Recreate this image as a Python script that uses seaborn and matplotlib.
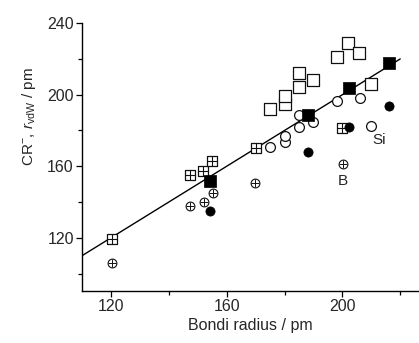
import numpy as np
import pandas as pd
import matplotlib
matplotlib.use("Agg")
import matplotlib.pyplot as plt
import seaborn as sns

# values (Bondi radius vs CR- / r_vdW, pm)
open_sq_x = [175.1, 180, 180, 184.9, 184.9, 190, 198.2, 202.1, 205.9, 209.9]
open_sq_y = [191.9, 194.7, 199.2, 204.4, 212.4, 208.1, 220.8, 228.9, 223.4, 205.7]

filled_sq_x = [154.1, 188, 202.2, 216]
filled_sq_y = [151.7, 188.9, 204, 217.8]

open_circ_x = [175.1, 180, 180, 184.9, 184.9, 190, 198, 206.1, 209.9]
open_circ_y = [170.8, 173.6, 176.8, 181.7, 188.5, 184.8, 196.4, 198.4, 182.4]

filled_circ_x = [154.1, 188, 202.2, 216]
filled_circ_y = [135.1, 168, 181.7, 193.6]

oplus_x = [120.2, 147.2, 152.1, 155.1, 169.9, 200.1]
oplus_y = [105.7, 137.7, 140.1, 144.8, 150.7, 161]

boxplus_x = [120.2, 147.2, 151.8, 154.9, 170, 199.8]
boxplus_y = [119.1, 155, 157.4, 163, 170, 181.1]

line_x = [110, 220]
line_y = [110, 220]

labels = ["B", "Si"]
label_x = [200.1, 212.8]
label_y = [151.7, 174.6]

sns.set_style("ticks")
plt.rcParams["font.family"] = ["Liberation Sans", "DejaVu Sans"]
plt.rcParams["mathtext.fontset"] = "custom"
plt.rcParams["mathtext.rm"] = "Liberation Sans"
plt.rcParams["mathtext.it"] = "Liberation Sans:italic"

fig = plt.figure(figsize=(4.19, 3.43), dpi=100)
ax = fig.add_axes([0.196, 0.1525, 0.802, 0.78])

sns.lineplot(x=line_x, y=line_y, ax=ax, color="black", lw=1.0, zorder=2)

ec = "#111111"
# open squares
sns.scatterplot(x=open_sq_x, y=open_sq_y, ax=ax, marker="s", s=64,
                facecolor="white", edgecolor=ec, linewidth=0.9, zorder=3)
# boxed plus: open square + cross
sns.scatterplot(x=boxplus_x, y=boxplus_y, ax=ax, marker="s", s=58,
                facecolor="white", edgecolor=ec, linewidth=0.9, zorder=3)
sns.scatterplot(x=boxplus_x, y=boxplus_y, ax=ax, marker="+", s=58,
                color=ec, linewidth=0.8, zorder=3)
# open circles
sns.scatterplot(x=open_circ_x, y=open_circ_y, ax=ax, marker="o", s=50,
                facecolor="white", edgecolor=ec, linewidth=0.9, zorder=3)
# circled plus
sns.scatterplot(x=oplus_x, y=oplus_y, ax=ax, marker="o", s=40,
                facecolor="white", edgecolor=ec, linewidth=0.8, zorder=3)
sns.scatterplot(x=oplus_x, y=oplus_y, ax=ax, marker="+", s=40,
                color=ec, linewidth=0.7, zorder=3)
# filled markers
sns.scatterplot(x=filled_circ_x, y=filled_circ_y, ax=ax, marker="o", s=44,
                color="black", edgecolor="black", linewidth=0.5, zorder=4)
sns.scatterplot(x=filled_sq_x, y=filled_sq_y, ax=ax, marker="s", s=78,
                color="black", edgecolor="black", linewidth=0.5, zorder=4)

for t, tx, ty in zip(labels, label_x, label_y):
    ax.text(tx, ty, t, ha="center", va="center", fontsize=11)

ax.set_xlim(110, 226.2)
ax.set_ylim(90.4, 240)
ax.set_xticks([120, 160, 200])
ax.set_xticks([140, 180, 220], minor=True)
ax.set_yticks([120, 160, 200, 240])
ax.set_yticks([100, 140, 180, 220], minor=True)
ax.tick_params(axis="both", which="major", length=4, width=0.9,
               labelsize=11.5, color="black", direction="out", pad=2)
ax.tick_params(axis="both", which="minor", length=3, width=0.9,
               color="black", direction="out")
sns.despine(ax=ax)
for sp in ["left", "bottom"]:
    ax.spines[sp].set_linewidth(1.0)
    ax.spines[sp].set_color("black")

ax.set_xlabel("Bondi radius / pm", fontsize=11.5, labelpad=3)
ax.set_ylabel(r"CR$^{-}$, $r_{\mathrm{vdW}}$ / pm", fontsize=11)
ax.yaxis.set_label_coords(-0.13, 0.65)

fig.savefig("out.png", dpi=100)
